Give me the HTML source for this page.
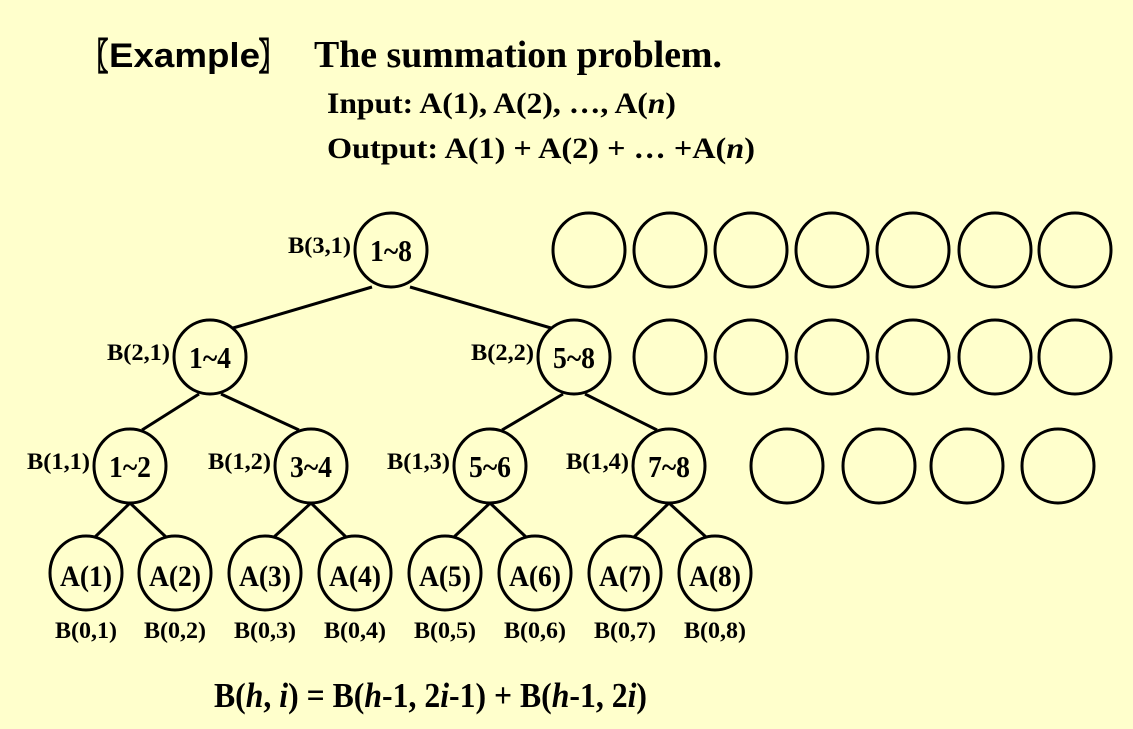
<!DOCTYPE html>
<html><head><meta charset="utf-8"><style>
html,body{margin:0;padding:0;background:#ffffcc;}
svg{display:block;}
.t{font-family:"Liberation Serif",serif;font-weight:bold;fill:#000;}
.s{font-family:"Liberation Sans","Noto Sans CJK SC",sans-serif;font-weight:bold;fill:#000;}
</style></head><body>
<svg id="slide" width="1133" height="729" viewBox="0 0 1133 729" xmlns="http://www.w3.org/2000/svg">
<rect width="1133" height="729" fill="#ffffcc"/>
<g>
<text class="t" x="84" y="69" font-size="36" textLength="24" lengthAdjust="spacingAndGlyphs" stroke="#000" stroke-width="1">〖</text>
<text class="s" x="109" y="67" font-size="34" textLength="151" lengthAdjust="spacingAndGlyphs">Example</text>
<text class="t" x="259" y="69" font-size="36" textLength="24" lengthAdjust="spacingAndGlyphs" stroke="#000" stroke-width="1">〗</text>
<text class="t" x="314" y="67" font-size="38" textLength="408" lengthAdjust="spacingAndGlyphs">The summation problem.</text>
</g>
<text class="t" x="327" y="113" font-size="30" textLength="349" lengthAdjust="spacingAndGlyphs">Input:  A(1), A(2), …, A(<tspan font-style="italic">n</tspan>)</text>
<text class="t" x="327" y="158" font-size="30" textLength="428" lengthAdjust="spacingAndGlyphs">Output: A(1) + A(2) + … +A(<tspan font-style="italic">n</tspan>)</text>
<g id="tree"></g>
<g id="extra"></g>
<text class="t" x="214" y="707" font-size="35" textLength="433" lengthAdjust="spacingAndGlyphs">B(<tspan font-style="italic">h</tspan>, <tspan font-style="italic">i</tspan>) = B(<tspan font-style="italic">h</tspan>-1, 2<tspan font-style="italic">i</tspan>-1) + B(<tspan font-style="italic">h</tspan>-1, 2<tspan font-style="italic">i</tspan>)</text>
</svg>
<script>
const NS="http://www.w3.org/2000/svg";
const levelY=[573,466,357,250];
const level1X=[130,311,490,669];
const level2X=[210,574];
const rootX=[391];
const leafX=[86,175,265,355,445,535,625,715];
const nodeLabels=[["A(1)","A(2)","A(3)","A(4)","A(5)","A(6)","A(7)","A(8)"],["1~2","3~4","5~6","7~8"],["1~4","5~8"],["1~8"]];
const extraRow1X=[589,670,751,832,913,995,1075];
const extraRow2X=[670,751,832,913,995,1075];
const extraRow3X=[787,879,967,1058];
const xs=[leafX,level1X,level2X,rootX];
const RX=36, RY=37;
const apexDx=[0,0,11,19];
const apexDy=[0,37,37,37];
const childEnd=[[9,-36],[12,-36],[23,-29]];
const tree=document.getElementById('tree');
const extra=document.getElementById('extra');
function mk(tag,attrs,parent){const e=document.createElementNS(NS,tag);for(const k in attrs)e.setAttribute(k,attrs[k]);parent.appendChild(e);return e;}
for(let h=1;h<4;h++){
  xs[h].forEach((px,i)=>{
    [0,1].forEach(side=>{
      const ci=2*i+side;
      const cx=xs[h-1][ci], cy=levelY[h-1], py=levelY[h];
      const sgn=side===0?-1:1;
      const ce=childEnd[h-1];
      const l=mk('line',{x1:px+sgn*apexDx[h],y1:py+apexDy[h],x2:cx-sgn*ce[0],y2:cy+ce[1],stroke:'#000','stroke-width':3},tree);
      
      
    });
  });
}
for(let h=0;h<4;h++){
  xs[h].forEach((x,i)=>{
    const y=levelY[h];
    const g=mk('g',{},tree);
    
    
    mk('ellipse',{cx:x,cy:y,rx:RX,ry:RY,fill:'none',stroke:'#000','stroke-width':3},g);
    const tx=mk('text',{x:x-(h===0?26:21),y:y+(h===0?13:11),'class':'t','font-size':h===0?30:31,textLength:h===0?52:42,lengthAdjust:'spacingAndGlyphs'},g);
    tx.textContent=nodeLabels[h][i];
    const lb=mk('text',{'class':'t','font-size':23,lengthAdjust:'spacingAndGlyphs'},g);
    
    
    if(h===0){lb.setAttribute('x',x-31);lb.setAttribute('y',638);lb.setAttribute('textLength',62);lb.textContent='B(0,'+(i+1)+')';}
    else{lb.setAttribute('x',x-RX-4-63);lb.setAttribute('y',y+3);lb.setAttribute('textLength',63);lb.textContent='B('+h+','+(i+1)+')';}
  });
}
[[extraRow1X,250],[extraRow2X,357],[extraRow3X,466]].forEach(([arr,y])=>{
  arr.forEach(x=>{
    const c=mk('ellipse',{cx:x,cy:y,rx:RX,ry:RY,fill:'none',stroke:'#000','stroke-width':3},extra);
    
    
  });
});
</script>
</body></html>
